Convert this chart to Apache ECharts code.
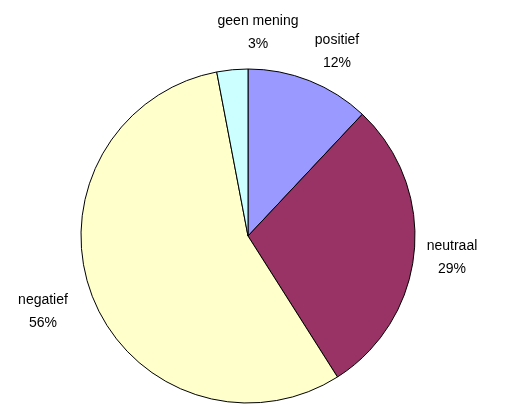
<!DOCTYPE html>
<html>
<head>
<meta charset="utf-8">
<script src="https://cdn.jsdelivr.net/npm/echarts@6/dist/echarts.min.js"></script>
<style>
  html, body { margin: 0; padding: 0; background: #fff; }
  #chart { width: 505px; height: 404px; }
</style>
</head>
<body>
<div id="chart"></div>
<script>
// Categories and values (percentages)
const categories = ['positief', 'neutraal', 'negatief', 'geen mening'];
const values = [12, 29, 56, 3];
const colors = ['#9999FF', '#993366', '#FFFFCC', '#CCFFFF'];

// Label anchor positions (centre of the text block), pixels
const labelPos = [[337, 52], [452, 258], [43, 312], [258, 33]];

const chart = echarts.init(document.getElementById('chart'));

chart.setOption({
    backgroundColor: '#ffffff',
    animation: false,
    series: [{
        type: 'pie',
        center: [248, 236],
        radius: 167,
        startAngle: 90,
        clockwise: true,
        data: categories.map((name, i) => ({
            name: name,
            value: values[i],
            itemStyle: { color: colors[i] }
        })),
        itemStyle: {
            borderColor: '#000000',
            borderWidth: 1
        },
        label: {
            show: true,
            position: 'outside',
            formatter: '{b}\n{c}%',
            color: '#000000',
            fontFamily: 'Liberation Sans, Arial, sans-serif',
            fontSize: 14,
            lineHeight: 23,
            align: 'center',
            overflow: 'none',
            width: 120
        },
        labelLine: { show: false },
        labelLayout: function(params) {
            const p = labelPos[params.dataIndex];
            return {
                x: p[0],
                y: p[1],
                align: 'center',
                verticalAlign: 'middle'
            };
        },
        emphasis: { disabled: true }
    }]
});
</script>
</body>
</html>
